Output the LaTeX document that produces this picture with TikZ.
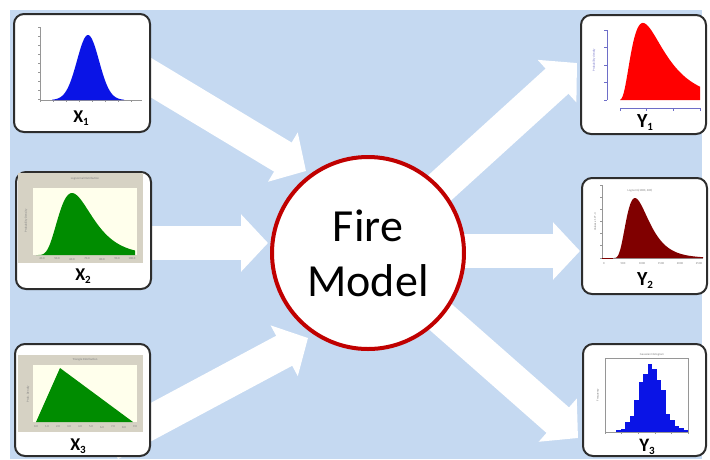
\documentclass[tikz,border=0pt]{standalone}
\usepackage{fontspec}
\setmainfont{Carlito}
\usetikzlibrary{arrows.meta}
\definecolor{bgblue}{RGB}{197,217,241}
\definecolor{firered}{RGB}{192,0,0}
\definecolor{boxline}{RGB}{45,45,45}
\definecolor{histblue}{RGB}{10,20,230}
\definecolor{pdfgreen}{RGB}{0,140,0}
\definecolor{darkred}{RGB}{128,0,0}
\definecolor{frameg}{RGB}{214,210,196}
\definecolor{plotbg}{RGB}{255,255,236}
\definecolor{axisg}{RGB}{150,150,150}
\definecolor{axisb}{RGB}{110,110,200}
\newcommand{\varlab}[2]{\textbf{#1\raisebox{-0.35ex}{\fontsize{11}{11}\selectfont #2}}}
\begin{document}
\begin{tikzpicture}[x=1pt,y=-1pt,
  panel/.style={draw=boxline, line width=2pt, fill=white, rounded corners=10pt, inner sep=0pt},
  flow/.style={white, line width=34pt, -{Triangle[length=27pt,width=56pt]}},
  varlabel/.style={font=\fontsize{18}{18}\selectfont, inner sep=0pt, anchor=base, text=black},
  tinytext/.style={font=\fontsize{3}{3}\selectfont, text=gray, inner sep=0pt},
  ax/.style={draw=axisg, line width=0.5pt},
  axb/.style={draw=axisb, line width=0.5pt},
]
\useasboundingbox (0,0) rectangle (710,459);
\fill[bgblue] (10,10) rectangle (702,459);

% arrow end points
\coordinate (a1s) at (110,53);  \coordinate (a1e) at (306,171);
\coordinate (a2s) at (110,243); \coordinate (a2e) at (268,243);
\coordinate (a3s) at (110,444); \coordinate (a3e) at (308,338);
\coordinate (b1s) at (368,253); \coordinate (b1e) at (577,63);
\coordinate (b2s) at (368,251); \coordinate (b2e) at (580,251);
\coordinate (b3s) at (368,253); \coordinate (b3e) at (578,438);

\draw[flow] (a1s) -- (a1e);
\draw[flow] (a2s) -- (a2e);
\draw[flow] (a3s) -- (a3e);
\draw[flow] (b1s) -- (b1e);
\draw[flow] (b2s) -- (b2e);
\draw[flow] (b3s) -- (b3e);

% central circle
\node[circle, draw=firered, line width=4pt, fill=white, minimum size=192pt, inner sep=0pt,
      align=center, font=\fontsize{46}{55}\selectfont] (fm) at (368,253) {Fire\\Model};

% panels
\node[panel, minimum width=136pt, minimum height=118pt] (x1) at (82,73) {};
\node[panel, minimum width=135pt, minimum height=117pt] (x2) at (83.5,230.5) {};
\node[panel, minimum width=135pt, minimum height=112pt] (x3) at (82.5,400) {};
\node[panel, minimum width=125pt, minimum height=119pt] (y1) at (643.5,74.5) {};
\node[panel, minimum width=125pt, minimum height=116pt] (y2) at (644.5,236) {};
\node[panel, minimum width=123pt, minimum height=112pt] (y3) at (644.5,400) {};

% ---- X1: normal histogram
\draw[ax] (40,27) -- (40,100) -- (142,100);
\foreach \t in {27,36,...,99} \draw[ax] (38,\t) -- (40,\t);
\foreach \t in {40,53,...,142} \draw[ax] (\t,100) -- (\t,102);
\fill[histblue] (52,100) -- plot[domain=52:124, samples=80] (\x,{100-65*exp(-0.5*((\x-88)/11)*((\x-88)/11))}) -- (124,100) -- cycle;
\node[varlabel] (x1l) at (81,122) {\varlab{X}{1}};

% ---- X2: lognormal
\fill[frameg] (18,173) rectangle (143,263);
\fill[plotbg] (33,188) rectangle (137,255);
\node[tinytext] (x2t) at (85,179) {Lognormal Distribution};
\node[tinytext, rotate=90] (x2y) at (26,221) {Probability Density};
\fill[pdfgreen] (36,255) -- plot[domain=36:135, samples=90]
  (\x,{255-62*(42/(\x-30))*exp(0.08-(ln(\x-30)-3.898)*(ln(\x-30)-3.898)/0.32)}) -- (135,255) -- cycle;
\foreach \t/\s in {42/40.0,57/50.0,72/60.0,87/70.0,102/80.0,117/90.0,132/100.0}
  \node[tinytext] at (\t,259) {\s};
\node[varlabel] (x2l) at (83,280) {\varlab{X}{2}};

% ---- X3: triangle
\fill[frameg] (18,355) rectangle (143,432);
\fill[plotbg] (33,365) rectangle (137,422);
\node[tinytext] (x3t) at (85,360) {Triangle Distribution};
\node[tinytext, rotate=90] (x3y) at (28,394) {Prob. Density};
\fill[pdfgreen] (36,422) -- (60,368) -- (133,422) -- cycle;
\foreach \t/\s in {36/0.0,47/1.0,58/2.0,69/3.0,80/4.0,91/5.0,102/6.0,113/7.0,124/8.0,135/9.0}
  \node[tinytext] at (\t,427) {\s};
\node[varlabel] (x3l) at (78,450) {\varlab{X}{3}};

% ---- Y1: red lognormal
\draw[axb] (607,30) -- (607,100);
\foreach \t in {30,47.5,65,82.5,100} \draw[axb] (604,\t) -- (607,\t);
\draw[axb] (620,108) -- (700,108);
\foreach \t in {620,646.7,673.3,700} \draw[axb] (\t,108) -- (\t,111);
\node[tinytext, text=axisb, rotate=90] (y1y) at (594,60) {Probability density};
\fill[red] (620,100) -- plot[domain=620:700, samples=90]
  (\x,{100-77*(26/(\x-617))*exp(0.1922-(ln(\x-617)-3.642)*(ln(\x-617)-3.642)/0.7688)}) -- (700,100) -- cycle;
\node[varlabel, font=\fontsize{20}{20}\selectfont] (y1l) at (645,127) {\varlab{Y}{1}};

% ---- Y2: dark red lognormal
\draw[ax] (602,185) -- (602,258) -- (703,258);
\foreach \t in {185,197,209,221,233,245,258} \draw[ax] (600,\t) -- (602,\t);
\node[tinytext] (y2t) at (640,191) {Lognorm(1000, 400)};
\node[tinytext, rotate=90] (y2y) at (595,222) {Values x 10\^{}-3};
\draw[darkred, line width=0.8pt] (602,258) -- (613,258);
\fill[darkred] (613,258) -- plot[domain=613:703, samples=90]
  (\x,{258-60*(25/(\x-610))*exp(0.101-(ln(\x-610)-3.421)*(ln(\x-610)-3.421)/0.405)}) -- (703,258) -- cycle;
\foreach \t/\s in {604/0,623/500,642/1000,661/1500,680/2000,699/2500}
  \node[tinytext] at (\t,264) {\s};
\node[varlabel, font=\fontsize{20}{20}\selectfont] (y2l) at (645,285) {\varlab{Y}{2}};

% ---- Y3: blue histogram
\draw[ax] (605,358) rectangle (688,432);
\node[tinytext] (y3t) at (652,355) {Gaussian Histogram};
\node[tinytext, rotate=90] (y3y) at (598,395) {Frequency};
\foreach \h [count=\i from 0] in {2,3,10,16,32,50,58,68,63,52,42,18,12,6,4,2}
  \fill[histblue] ({616+4.5*\i},432) rectangle ({620.5+4.5*\i},{432-\h});
\foreach \t in {605,621.6,638.2,654.8,671.4,688} \draw[ax] (\t,432) -- (\t,434);
\node[varlabel, font=\fontsize{19}{19}\selectfont] (y3l) at (647,451) {\varlab{Y}{3}};
\end{tikzpicture}
\end{document}
